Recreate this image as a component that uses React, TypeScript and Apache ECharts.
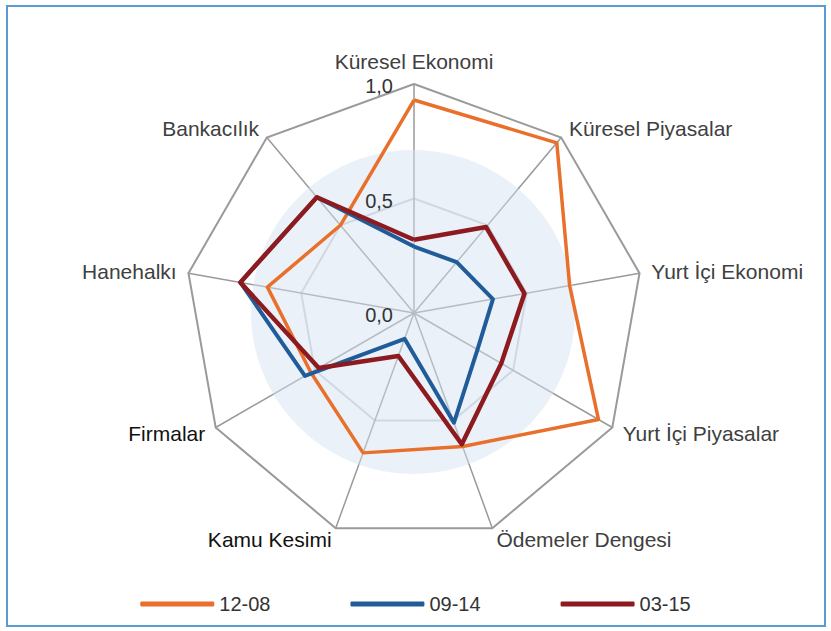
import React, { useEffect, useRef } from "react";
import * as echarts from "echarts";

// Indicators in clockwise order starting from the top
const CATEGORIES = [
  "Küresel Ekonomi",
  "Küresel Piyasalar",
  "Yurt İçi Ekonomi",
  "Yurt İçi Piyasalar",
  "Ödemeler Dengesi",
  "Kamu Kesimi",
  "Firmalar",
  "Hanehalkı",
  "Bankacılık",
];
const DARK_NAMES = ["Kamu Kesimi", "Firmalar"];

const SERIES_NAMES = ["12-08", "09-14", "03-15"];
const S_1208 = [0.93, 0.97, 0.69, 0.93, 0.62, 0.65, 0.52, 0.65, 0.5];
const S_0914 = [0.29, 0.29, 0.35, 0.32, 0.51, 0.12, 0.55, 0.77, 0.66];
const S_0315 = [0.32, 0.49, 0.49, 0.44, 0.61, 0.2, 0.48, 0.77, 0.66];
const SERIES_COLORS = ["#E8702A", "#1F5C99", "#8C1A1F"];
const SERIES_WIDTHS = [3.5, 4, 4.5];

const TICK_VALUES = [0, 0.5, 1.0];
const TICK_LABELS = ["0,0", "0,5", "1,0"];

const W = 831;
const H = 631;
const CX = 414;
const CY = 313;
const R = 229;
const FONT = '"Liberation Sans", Arial, sans-serif';

// ECharts radar places indicators counter-clockwise; reorder to get clockwise
const clockwiseOrder = (arr: any[]) => [arr[0], ...arr.slice(1).reverse()];

export default function App() {
  const ref = useRef<HTMLDivElement>(null);
  useEffect(() => {
    if (!ref.current) return;
    const chart = echarts.init(ref.current, undefined, { renderer: "svg" });
    const seriesData = [S_1208, S_0914, S_0315];
    const indicators = clockwiseOrder(
      CATEGORIES.map((name) => ({
        name,
        min: 0,
        max: 1,
        color: DARK_NAMES.includes(name) ? "#111111" : "#404040",
      }))
    );
    const option: any = {
      animation: false,
      backgroundColor: "#ffffff",
      radar: {
        center: [CX, CY],
        radius: R,
        startAngle: 90,
        splitNumber: 2,
        shape: "polygon",
        indicator: indicators,
        axisName: {
          fontSize: 21,
          fontFamily: FONT,
        },
        nameGap: 12,
        axisLine: { lineStyle: { color: "#9a9a9a", width: 1.5 } },
        splitLine: {
          lineStyle: { color: ["#9a9a9a", "#c9cfd6", "#9a9a9a"], width: 2 },
        },
        splitArea: { show: false },
        axisTick: { show: false },
        axisLabel: { show: false },
      },
      legend: {
        data: SERIES_NAMES,
        left: "center",
        top: 589,
        icon: "roundRect",
        itemWidth: 74,
        itemHeight: 5,
        itemGap: 80,
        textStyle: { fontSize: 20, fontFamily: FONT, color: "#333333" },
      },
      graphic: [
        {
          type: "circle",
          z: 1,
          silent: true,
          shape: { cx: CX - 1, cy: CY - 1, r: 162 },
          style: { fill: "rgba(214,226,241,0.48)" },
        },
        {
          type: "rect",
          z: 10,
          silent: true,
          shape: { x: 7, y: 6, width: W - 13, height: H - 11 },
          style: { fill: "none", stroke: "#5B9BD5", lineWidth: 2 },
        },
        ...TICK_VALUES.map((v, i) => ({
          type: "text",
          z: 10,
          silent: true,
          x: CX - 21,
          y: CY - R * v + 2,
          style: {
            text: TICK_LABELS[i],
            fontSize: 20,
            fontFamily: FONT,
            fill: "#333333",
            align: "right",
            verticalAlign: "middle",
          },
        })),
      ],
      series: SERIES_NAMES.map((name, i) => ({
        type: "radar",
        name,
        z: 3 + i,
        symbol: "none",
        lineStyle: { color: SERIES_COLORS[i], width: SERIES_WIDTHS[i] },
        itemStyle: { color: SERIES_COLORS[i] },
        data: [{ name, value: clockwiseOrder(seriesData[i]) }],
      })),
    };
    chart.setOption(option);
    return () => chart.dispose();
  }, []);
  return (
    <div
      ref={ref}
      style={{ position: "fixed", left: 0, top: 0, width: W, height: H }}
    />
  );
}
